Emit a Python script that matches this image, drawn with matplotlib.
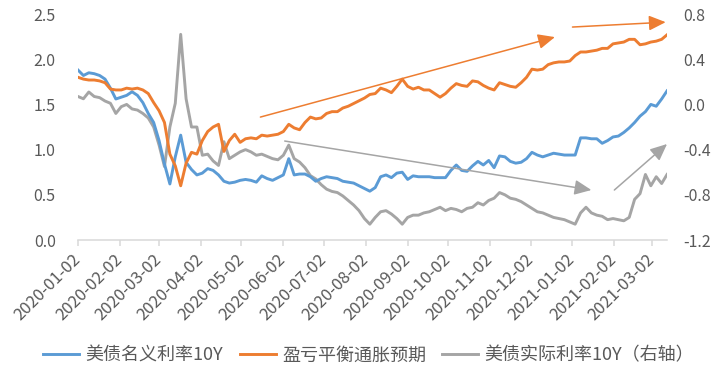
import pandas as pd
import numpy as np
import matplotlib
matplotlib.use("Agg")
import matplotlib.pyplot as plt

plt.rcParams['font.family'] = ['Noto Sans CJK SC', 'DejaVu Sans']
plt.rcParams['axes.unicode_minus'] = False

#%% data (one point every 4 days)
dates = pd.date_range('2020-01-02', periods=110, freq='4D')

nominal_10y = [
    1.88, 1.82, 1.85, 1.84, 1.82, 1.78, 1.68, 1.56, 1.58, 1.60,
    1.64, 1.60, 1.52, 1.40, 1.30, 1.10, 0.84, 0.62, 0.92, 1.16,
    0.86, 0.78, 0.72, 0.74, 0.79, 0.77, 0.72, 0.65, 0.63, 0.64,
    0.66, 0.67, 0.66, 0.64, 0.71, 0.68, 0.66, 0.69, 0.72, 0.90,
    0.72, 0.73, 0.73, 0.70, 0.65, 0.68, 0.70, 0.69, 0.68, 0.65,
    0.64, 0.63, 0.60, 0.57, 0.54, 0.58, 0.70, 0.72, 0.69, 0.74,
    0.75, 0.67, 0.71, 0.70, 0.70, 0.70, 0.69, 0.69, 0.69, 0.77,
    0.83, 0.77, 0.76, 0.82, 0.87, 0.83, 0.88, 0.80, 0.93, 0.92,
    0.87, 0.85, 0.86, 0.90, 0.97, 0.94, 0.92, 0.94, 0.96, 0.95,
    0.94, 0.94, 0.94, 1.13, 1.13, 1.12, 1.12, 1.07, 1.10, 1.14,
    1.15, 1.19, 1.24, 1.30, 1.37, 1.42, 1.50, 1.48, 1.56, 1.65]

breakeven = [
    1.80, 1.78, 1.77, 1.77, 1.76, 1.74, 1.67, 1.66, 1.66, 1.68,
    1.67, 1.68, 1.66, 1.62, 1.52, 1.43, 1.30, 0.95, 0.82, 0.60,
    0.85, 0.97, 0.95, 1.10, 1.20, 1.25, 1.28, 0.98, 1.10, 1.17,
    1.08, 1.12, 1.13, 1.12, 1.16, 1.15, 1.16, 1.17, 1.20, 1.28,
    1.24, 1.22, 1.30, 1.36, 1.34, 1.35, 1.40, 1.42, 1.42, 1.46,
    1.48, 1.51, 1.54, 1.57, 1.61, 1.62, 1.68, 1.66, 1.63, 1.70,
    1.78, 1.70, 1.67, 1.69, 1.66, 1.66, 1.62, 1.58, 1.62, 1.68,
    1.73, 1.71, 1.70, 1.76, 1.75, 1.71, 1.68, 1.66, 1.74, 1.72,
    1.70, 1.69, 1.74, 1.80, 1.89, 1.88, 1.89, 1.94, 1.96, 1.97,
    1.97, 1.98, 2.04, 2.08, 2.08, 2.09, 2.10, 2.12, 2.12, 2.17,
    2.18, 2.19, 2.22, 2.22, 2.16, 2.17, 2.19, 2.20, 2.22, 2.27]

real_10y = [
    0.07, 0.05, 0.11, 0.07, 0.06, 0.03, 0.01, -0.08, -0.02, 0.00,
    -0.04, -0.05, -0.08, -0.12, -0.20, -0.36, -0.55, -0.20, 0.01, 0.62,
    0.05, -0.20, -0.20, -0.45, -0.44, -0.50, -0.54, -0.33, -0.48, -0.45,
    -0.42, -0.40, -0.42, -0.45, -0.44, -0.46, -0.48, -0.49, -0.45, -0.36,
    -0.48, -0.51, -0.56, -0.63, -0.66, -0.71, -0.75, -0.77, -0.78, -0.81,
    -0.85, -0.89, -0.94, -1.01, -1.06, -1.00, -0.95, -0.94, -0.97, -1.01,
    -1.06, -1.00, -0.98, -0.98, -0.96, -0.95, -0.93, -0.91, -0.94, -0.92,
    -0.93, -0.95, -0.92, -0.91, -0.87, -0.89, -0.85, -0.83, -0.78, -0.80,
    -0.83, -0.84, -0.86, -0.89, -0.92, -0.95, -0.96, -0.98, -1.00, -1.01,
    -1.02, -1.04, -1.06, -0.96, -0.91, -0.96, -0.98, -0.99, -1.02, -1.01,
    -1.02, -1.03, -1.00, -0.84, -0.79, -0.62, -0.72, -0.64, -0.70, -0.62]

xtick_labels = ['2020-01-02', '2020-02-02', '2020-03-02', '2020-04-02',
                '2020-05-02', '2020-06-02', '2020-07-02', '2020-08-02',
                '2020-09-02', '2020-10-02', '2020-11-02', '2020-12-02',
                '2021-01-02', '2021-02-02', '2021-03-02']
series_names = ['美债名义利率10Y', '盈亏平衡通胀预期', '美债实际利率10Y（右轴）']

#%% style
c_blue, c_orange, c_gray = '#5B9BD5', '#ED7D31', '#A5A5A5'
txt_color = '#595959'
axis_color = '#D9D9D9'
lw = 2.1

fig = plt.figure(figsize=(7.23, 3.72), dpi=100)
ax = fig.add_axes([0.1079, 0.3548, 0.8147, 0.6075])
ax2 = ax.twinx()

l1, = ax.plot(dates, nominal_10y, color=c_blue, lw=lw, label=series_names[0])
l2, = ax.plot(dates, breakeven, color=c_orange, lw=lw, label=series_names[1])
l3, = ax2.plot(dates, real_10y, color=c_gray, lw=lw, label=series_names[2])
ax.set_zorder(ax2.get_zorder() + 1)
ax.patch.set_visible(False)

ax.set_ylim(0, 2.5)
ax2.set_ylim(-1.2, 0.8)
ax.set_yticks(np.arange(0, 2.51, 0.5))
ax2.set_yticks(np.arange(-1.2, 0.81, 0.4))
ax.set_yticklabels(['%.1f' % v for v in ax.get_yticks()])
ax2.set_yticklabels(['%.1f' % (v + 0.0) for v in np.round(ax2.get_yticks(), 1)])

xticks = pd.to_datetime(xtick_labels)
ax.set_xlim(pd.Timestamp('2020-01-02'), pd.Timestamp('2021-03-13'))
ax.set_xticks(xticks)
ax.set_xticklabels(xtick_labels, rotation=45, ha='right', va='center',
                   rotation_mode='anchor', fontsize=12, color=txt_color)

for a in (ax, ax2):
    for s in ('top', 'left', 'right'):
        a.spines[s].set_visible(False)
    a.spines['bottom'].set_color(axis_color)
    a.spines['bottom'].set_linewidth(1.1)
ax2.spines['bottom'].set_visible(False)

ax.tick_params(axis='x', direction='out', length=4, width=1.1, color=axis_color, pad=8)
ax.tick_params(axis='y', length=0, labelsize=11.5, labelcolor=txt_color, pad=16)
ax2.tick_params(axis='y', length=0, labelsize=11.5, labelcolor=txt_color, pad=12)

#%% trend arrows
def trend(p0, p1, color):
    ax.annotate('', xy=p1, xytext=p0, xycoords='data', annotation_clip=False,
                arrowprops=dict(arrowstyle='-|>,head_length=0.85,head_width=0.38',
                                mutation_scale=12, lw=1.1, color=color,
                                shrinkA=0, shrinkB=0))

trend((pd.Timestamp('2020-05-16'), 1.36), (pd.Timestamp('2020-12-20'), 2.245), c_orange)
trend((pd.Timestamp('2021-01-02'), 2.356), (pd.Timestamp('2021-03-12'), 2.41), c_orange)
trend((pd.Timestamp('2020-06-03'), 1.095), (pd.Timestamp('2021-01-16'), 0.553), c_gray)
trend((pd.Timestamp('2021-02-02'), 0.553), (pd.Timestamp('2021-03-13'), 1.062), c_gray)

fig.legend(handles=[l1, l2, l3], loc='center', bbox_to_anchor=(0.51, 0.045),
           ncol=3, frameon=False, fontsize=13, labelcolor=txt_color,
           handlelength=2.0, handletextpad=0.35, columnspacing=0.9)

fig.savefig('out.png', dpi=100)
